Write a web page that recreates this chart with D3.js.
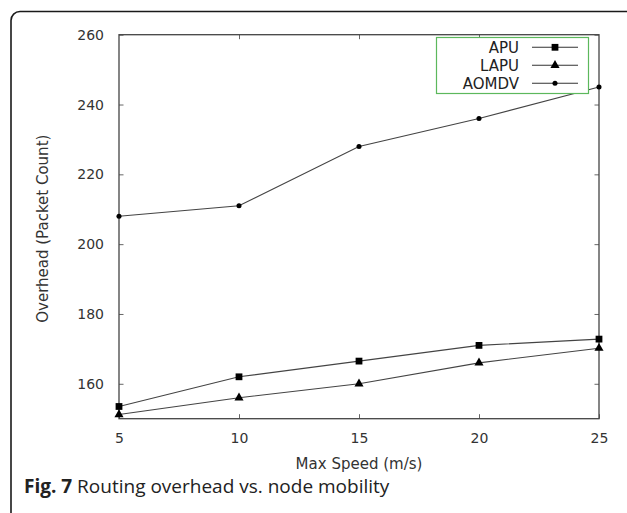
<!DOCTYPE html>
<html>
<head>
<meta charset="utf-8">
<script src="https://cdn.jsdelivr.net/npm/d3@7"></script>
<style>
  html, body { margin: 0; padding: 0; background: #fff; }
  svg { display: block; }
</style>
</head>
<body>
<svg id="chart" width="627" height="513"></svg>
<script>
// Routing overhead per protocol as node speed increases
const speeds = [5, 10, 15, 20, 25];
const apu = [153.5, 162, 166.5, 171, 172.8];
const lapu = [151.2, 156, 160, 166, 170.2];
const aomdv = [208, 211, 228, 236, 245];
const seriesNames = ["APU", "LAPU", "AOMDV"];
const xTicks = [5, 10, 15, 20, 25];
const yTicks = [160, 180, 200, 220, 240, 260];

const svg = d3.select("#chart");
const font = "DejaVu Sans, sans-serif";

// outer figure frame with rounded corner
svg.append("rect")
  .attr("x", 11).attr("y", 11.5)
  .attr("width", 640).attr("height", 520)
  .attr("rx", 9)
  .attr("fill", "#fff").attr("stroke", "#1a1a1a").attr("stroke-width", 1.6);

const plotL = 119, plotR = 599, plotT = 34.7, plotB = 418.7;
const x = d3.scaleLinear().domain([5, 25]).range([plotL, plotR]);
const y = d3.scaleLinear().domain([150, 260]).range([plotB, plotT]);

const g = svg.append("g");

// ticks drawn inward on all four sides
const tickLen = 4.5;
const axisStyle = sel => {
  sel.select(".domain").remove();
  sel.selectAll(".tick line").attr("stroke", "#555").attr("stroke-width", 0.9);
};
g.append("g").attr("transform", `translate(0,${plotB})`)
  .call(d3.axisBottom(x).tickValues(xTicks).tickSize(-tickLen).tickPadding(14))
  .call(axisStyle)
  .selectAll("text").attr("font-family", font).attr("font-size", 14).attr("fill", "#333");
g.append("g").attr("transform", `translate(0,${plotT})`)
  .call(d3.axisTop(x).tickValues(xTicks.slice(1, -1)).tickSize(-tickLen).tickFormat(""))
  .call(axisStyle);
g.append("g").attr("transform", `translate(${plotL},0)`)
  .call(d3.axisLeft(y).tickValues(yTicks).tickSize(-tickLen).tickPadding(15))
  .call(axisStyle)
  .selectAll("text").attr("font-family", font).attr("font-size", 14).attr("fill", "#333");
g.append("g").attr("transform", `translate(${plotR},0)`)
  .call(d3.axisRight(y).tickValues(yTicks).tickSize(-tickLen).tickFormat(""))
  .call(axisStyle);

// plot border
g.append("rect")
  .attr("x", plotL).attr("y", plotT)
  .attr("width", plotR - plotL).attr("height", plotB - plotT)
  .attr("fill", "none").attr("stroke", "#444").attr("stroke-width", 1.3);

// axis titles
svg.append("text")
  .attr("x", (plotL + plotR) / 2).attr("y", 469)
  .attr("text-anchor", "middle")
  .attr("font-family", font).attr("font-size", 15).attr("fill", "#333")
  .text("Max Speed (m/s)");
svg.append("text")
  .attr("transform", `translate(48,${(plotT + plotB) / 2 + 2}) rotate(-90)`)
  .attr("text-anchor", "middle")
  .attr("font-family", font).attr("font-size", 15).attr("fill", "#333")
  .text("Overhead (Packet Count)");

// series
const data = [apu, lapu, aomdv];
const symbols = [d3.symbolSquare, d3.symbolTriangle, d3.symbolCircle];
const symSizes = [46, 36, 20];
const line = d3.line().x((d, i) => x(speeds[i])).y(d => y(d));

data.forEach((vals, k) => {
  g.append("path").datum(vals)
    .attr("d", line)
    .attr("fill", "none").attr("stroke", "#444").attr("stroke-width", 1.1);
  g.selectAll(null).data(vals).enter().append("path")
    .attr("transform", (d, i) => `translate(${x(speeds[i])},${y(d)})`)
    .attr("d", d3.symbol().type(symbols[k]).size(symSizes[k]))
    .attr("fill", "#000");
});

// legend
const lg = svg.append("g");
lg.append("rect")
  .attr("x", 436.5).attr("y", 37.5).attr("width", 152).attr("height", 56)
  .attr("fill", "#fff").attr("stroke", "#5cb85c").attr("stroke-width", 1.2);
seriesNames.forEach((name, k) => {
  const ly = 47.3 + k * 18;
  lg.append("text")
    .attr("x", 519).attr("y", ly + 5.5)
    .attr("text-anchor", "end")
    .attr("font-family", font).attr("font-size", 15).attr("fill", "#222")
    .text(name);
  lg.append("line")
    .attr("x1", 532).attr("x2", 578).attr("y1", ly).attr("y2", ly)
    .attr("stroke", "#333").attr("stroke-width", 1.1);
  lg.append("path")
    .attr("transform", `translate(555,${ly})`)
    .attr("d", d3.symbol().type(symbols[k]).size(symSizes[k]))
    .attr("fill", "#000");
});

// caption
const cap = svg.append("text")
  .attr("x", 24).attr("y", 493)
  .attr("font-family", "Open Sans, sans-serif").attr("font-size", 19).attr("fill", "#222");
cap.append("tspan").attr("font-weight", "bold").text("Fig. 7");
cap.append("tspan").text(" Routing overhead vs. node mobility");
</script>
</body>
</html>
